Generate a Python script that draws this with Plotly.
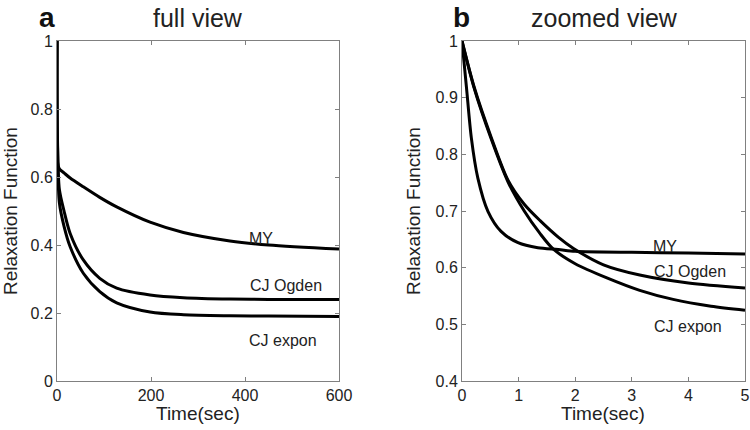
import plotly.graph_objects as go

# ---- data: full view (panel a) ----
t_full = [0, 1, 5, 15, 28, 56, 91, 127, 198, 269, 368, 450, 600]
my_full = [1, 0.644, 0.624, 0.612, 0.597, 0.571, 0.540, 0.512, 0.467, 0.437, 0.412, 0.400, 0.388]
ogden_full = [1, 0.712, 0.564, 0.500, 0.434, 0.356, 0.302, 0.273, 0.253, 0.245, 0.241, 0.240, 0.240]
expon_full = [1, 0.700, 0.525, 0.455, 0.395, 0.317, 0.263, 0.230, 0.203, 0.195, 0.192, 0.191, 0.190]

# ---- data: zoomed view (panel b) ----
t_my_zoom = [0, 0.08, 0.165, 0.28, 0.46, 0.69, 0.99, 1.34, 1.7, 2.0, 3.0, 4.0, 5.0]
my_zoom = [1, 0.917, 0.829, 0.758, 0.699, 0.664, 0.644, 0.635, 0.632, 0.629, 0.627, 0.626, 0.624]
t_og_zoom = [0, 0.22, 0.52, 0.81, 1.1, 1.38, 1.7, 1.97, 2.5, 3.14, 4.0, 5.0]
ogden_zoom = [1, 0.917, 0.829, 0.755, 0.712, 0.683, 0.654, 0.634, 0.605, 0.587, 0.573, 0.564]
t_ex_zoom = [0, 0.22, 0.52, 0.81, 1.1, 1.38, 1.61, 2.0, 2.56, 3.14, 3.73, 4.4, 5.0]
expon_zoom = [1, 0.915, 0.826, 0.752, 0.700, 0.660, 0.633, 0.607, 0.582, 0.560, 0.544, 0.532, 0.525]

series_names = ["MY", "CJ Ogden", "CJ expon"]
x_ticks_full = [0, 200, 400, 600]
y_ticks_full = [0, 0.2, 0.4, 0.6, 0.8, 1]
x_ticks_zoom = [0, 1, 2, 3, 4, 5]
y_ticks_zoom = [0.4, 0.5, 0.6, 0.7, 0.8, 0.9, 1]

FONT = "Liberation Sans, Arial, sans-serif"
line = dict(color="black", width=3, shape="spline", smoothing=0.8)

W, H = 750, 430


def px_x(X):
    return X / W


def px_y(Y):
    return 1 - Y / H


fig = go.Figure()
for t, v in [(t_full, my_full), (t_full, ogden_full), (t_full, expon_full)]:
    fig.add_trace(go.Scatter(x=t, y=v, mode="lines", line=line, xaxis="x", yaxis="y",
                             showlegend=False, hoverinfo="skip"))
for t, v in [(t_my_zoom, my_zoom), (t_og_zoom, ogden_zoom), (t_ex_zoom, expon_zoom)]:
    fig.add_trace(go.Scatter(x=t, y=v, mode="lines", line=line, xaxis="x2", yaxis="y2",
                             showlegend=False, hoverinfo="skip"))

axis_common = dict(showline=True, linecolor="#808080", linewidth=1, mirror="ticks",
                   ticks="inside", ticklen=4, tickcolor="#808080", showgrid=False,
                   zeroline=False, automargin=False,
                   tickfont=dict(family=FONT, size=16, color="#222"))

ydom = [px_y(381), px_y(41)]
fig.update_layout(
    width=W, height=H,
    margin=dict(l=0, r=0, t=0, b=0),
    paper_bgcolor="white", plot_bgcolor="white",
    xaxis=dict(domain=[px_x(57), px_x(339)], range=[0, 600], tickvals=x_ticks_full,
               anchor="y", **axis_common),
    yaxis=dict(domain=ydom, range=[0, 1], tickvals=y_ticks_full,
               ticktext=["0", "0.2", "0.4", "0.6", "0.8", "1"], anchor="x", **axis_common),
    xaxis2=dict(domain=[px_x(462), px_x(745)], range=[0, 5], tickvals=x_ticks_zoom,
                anchor="y2", **axis_common),
    yaxis2=dict(domain=ydom, range=[0.4, 1], tickvals=y_ticks_zoom,
                ticktext=["0.4", "0.5", "0.6", "0.7", "0.8", "0.9", "1"], anchor="x2", **axis_common),
)

ann = []
lab_font = dict(family=FONT, size=16, color="#222")
# series labels, panel a
for name, x, y in zip(series_names, [434, 487, 481], [0.42, 0.282, 0.12]):
    ann.append(dict(x=x, y=y, xref="x", yref="y", text=name, showarrow=False, font=lab_font))
# series labels, panel b
for name, x, y in zip(series_names, [3.59, 4.03, 3.99], [0.637, 0.593, 0.497]):
    ann.append(dict(x=x, y=y, xref="x2", yref="y2", text=name, showarrow=False, font=lab_font))

title_font = dict(family=FONT, size=25, color="#222")
ann.append(dict(x=198, y=18, xref="paper", yref="paper", text="full view", showarrow=False, font=title_font))
ann.append(dict(x=604, y=18, xref="paper", yref="paper", text="zoomed view", showarrow=False, font=title_font))
bold_font = dict(family=FONT, size=28, color="#111")
ann.append(dict(x=47, y=18, xref="paper", yref="paper", text="<b>a</b>", showarrow=False, font=bold_font))
ann.append(dict(x=461, y=17, xref="paper", yref="paper", text="<b>b</b>", showarrow=False, font=bold_font))

axis_title_font = dict(family=FONT, size=19, color="#222")
ann.append(dict(x=198, y=413, xref="paper", yref="paper", text="Time(sec)", showarrow=False, font=axis_title_font))
ann.append(dict(x=603, y=413, xref="paper", yref="paper", text="Time(sec)", showarrow=False, font=axis_title_font))
ann.append(dict(x=10, y=211, xref="paper", yref="paper", text="Relaxation Function", textangle=-90,
                showarrow=False, font=axis_title_font))
ann.append(dict(x=413, y=211, xref="paper", yref="paper", text="Relaxation Function", textangle=-90,
                showarrow=False, font=axis_title_font))

# convert pixel positions for paper-referenced annotations
for a in ann:
    if a["xref"] == "paper":
        a["x"] = px_x(a["x"])
        a["y"] = px_y(a["y"])
        a["xanchor"] = "center"
        a["yanchor"] = "middle"
fig.update_layout(annotations=ann)

fig.write_html("out.html", config={"displayModeBar": False},
               post_script="document.body.style.margin='0px';document.body.style.overflow='hidden';")
